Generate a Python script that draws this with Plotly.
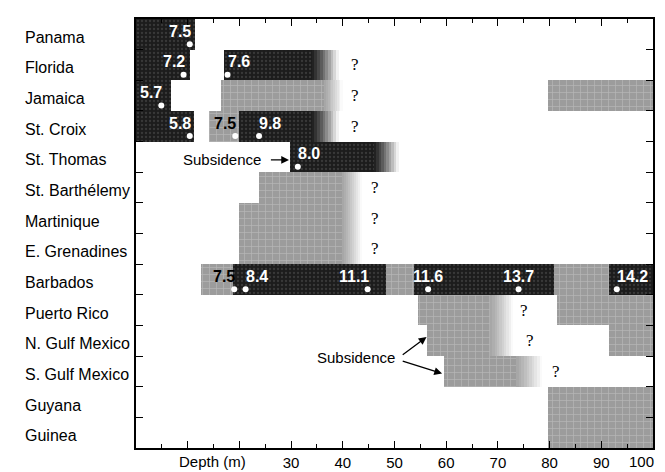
import plotly.graph_objects as go

# ---------------- data ----------------
locations = ["Panama", "Florida", "Jamaica", "St. Croix", "St. Thomas", "St. Barthélemy",
             "Martinique", "E. Grenadines", "Barbados", "Puerto Rico", "N. Gulf Mexico",
             "S. Gulf Mexico", "Guyana", "Guinea"]

# reef segments: row index, start depth, end depth, kind, depth at which fade begins (None = no fade)
seg_rows   = [0, 1, 1, 2, 2, 2, 3, 3, 3, 4, 5, 6, 7,
              8, 8, 8, 8, 8, 8, 9, 9, 10, 10, 11, 12, 13]
seg_starts = [0, 0, 17.0, 0, 16.4, 79.6, 0, 14.2, 20.0, 29.8, 23.8, 20.0, 20.0,
              12.5, 18.7, 48.3, 53.7, 80.8, 91.5, 54.6, 81.5, 56.3, 91.5, 59.5, 79.6, 79.6]
seg_ends   = [11.5, 10.5, 39.2, 6.8, 40.0, 100, 11.3, 20.0, 39.2, 50.8, 43.7, 43.7, 43.7,
              18.7, 48.3, 53.7, 80.8, 91.5, 100, 73.0, 100, 73.0, 100, 78.6, 100, 100]
seg_kinds  = ["dark", "dark", "dark", "dark", "light", "light", "dark", "light", "dark", "dark",
              "light", "light", "light",
              "light", "dark", "light", "dark", "light", "dark", "light", "light", "light",
              "light", "light", "light", "light"]
seg_fades  = [None, None, 34.0, None, 36.5, None, None, None, 34.0, 46.0, 40.0, 40.0, 40.0,
              None, None, None, None, None, None, 68.5, None, 68.5, None, 73.5, None, None]

# dated samples (white dots): row, depth, age label (ka)
dot_rows   = [0, 1, 1, 2, 3, 3, 3, 4, 8, 8, 8, 8, 8, 8]
dot_depths = [10.4, 9.2, 17.7, 4.9, 10.4, 19.2, 23.8, 31.3, 19.0, 21.2, 44.8, 56.5, 74.0, 93.0]
dot_labels = ["7.5", "7.2", "7.6", "5.7", "5.8", "7.5", "9.8", "8.0",
              "7.5", "8.4", "11.1", "11.6", "13.7", "14.2"]
label_anchor = ["right", "right", "left", "right", "right", "right", "left", "left",
                "right", "left", "right", "center", "center", "left"]
label_color = ["white"] * 5 + ["black"] + ["white"] * 2 + ["black"] + ["white"] * 5

# unknown lower limits ("?")
q_rows   = [1, 2, 3, 5, 6, 7, 9, 10, 11]
q_depths = [42.3, 42.3, 42.3, 46.2, 46.2, 46.2, 75.0, 76.2, 81.2]

x_tickvals = [0, 10, 20, 30, 40, 50, 60, 70, 80, 90, 100]
x_ticktext = ["", "", "", "30", "40", "50", "60", "70", "80", "90", ""]
x_last_label = "100"

# ---------------- styling ----------------
COLORS = {"dark": (28, 28, 28), "light": (165, 165, 165)}
PATTERNS = {
    "dark": dict(shape=".", fgcolor="#555555", bgcolor="#1c1c1c", size=4, solidity=0.25),
    "light": dict(shape="+", fgcolor="#d2d2d2", bgcolor="#9c9c9c", size=7, solidity=0.18),
}
FONT = "Liberation Sans, Arial, Helvetica, sans-serif"
SERIF = "Liberation Serif, Times New Roman, serif"


def rgb(c):
    return "rgb(%d,%d,%d)" % c


def mix(c, t):
    return tuple(round(v + (255 - v) * t) for v in c)


fig = go.Figure()
N_FADE = 10
for r, s, e, k, f in zip(seg_rows, seg_starts, seg_ends, seg_kinds, seg_fades):
    base_c = COLORS[k]
    solid_end = e if f is None else f
    fig.add_trace(go.Bar(orientation="h", y=[r], base=[s], x=[solid_end - s], width=1.0,
                         marker=dict(color=rgb(base_c), line=dict(width=0), pattern=PATTERNS[k]),
                         showlegend=False, hoverinfo="skip"))
    if f is not None:
        step = (e - f) / N_FADE
        for i in range(N_FADE):
            t = (i + 0.5) / N_FADE
            fig.add_trace(go.Bar(orientation="h", y=[r], base=[f + i * step], x=[step * 1.02],
                                 width=1.0,
                                 marker=dict(color=rgb(mix(base_c, t ** 1.2)), line=dict(width=0)),
                                 showlegend=False, hoverinfo="skip"))

fig.add_trace(go.Scatter(x=dot_depths, y=[r + 0.32 for r in dot_rows], mode="markers",
                         marker=dict(color="white", size=6, line=dict(width=0)),
                         showlegend=False, hoverinfo="skip"))

annotations = []
for r, d, lab, anc, col in zip(dot_rows, dot_depths, dot_labels, label_anchor, label_color):
    shift = {"left": -2, "right": 3, "center": 0}[anc]
    annotations.append(dict(x=d, y=r, xref="x", yref="y", text="<b>%s</b>" % lab, showarrow=False,
                            xanchor=anc, yanchor="middle", xshift=shift, yshift=3,
                            font=dict(family=FONT, size=16, color=col)))

for r, d in zip(q_rows, q_depths):
    annotations.append(dict(x=d, y=r, xref="x", yref="y", text="?", showarrow=False,
                            xanchor="center", yanchor="middle",
                            font=dict(family=SERIF, size=17, color="black")))

for i, name in enumerate(locations):
    annotations.append(dict(x=-0.219, y=i, xref="paper", yref="y", text=name, showarrow=False,
                            xanchor="left", yanchor="middle", yshift=-3,
                            font=dict(family=FONT, size=16, color="black")))

annotations.append(dict(x=14.8, y=0, xref="x", yref="paper", text="Depth (m)", showarrow=False,
                        xanchor="center", yanchor="top", yshift=-3,
                        font=dict(family=FONT, size=15, color="black")))
annotations.append(dict(x=100, y=0, xref="x", yref="paper", text=x_last_label, showarrow=False,
                        xanchor="right", yanchor="top", yshift=-3, xshift=3,
                        font=dict(family=FONT, size=15, color="black")))

# Subsidence annotations
annotations.append(dict(x=16.7, y=4.1, xref="x", yref="y", text="Subsidence", showarrow=False,
                        xanchor="center", yanchor="middle",
                        font=dict(family=FONT, size=15, color="black")))
annotations.append(dict(x=29.6, y=4.1, ax=25.8, ay=4.1, xref="x", yref="y", axref="x", ayref="y",
                        text="", showarrow=True, arrowhead=2, arrowsize=1.2, arrowwidth=1.3,
                        arrowcolor="black"))
annotations.append(dict(x=42.5, y=10.56, xref="x", yref="y", text="Subsidence", showarrow=False,
                        xanchor="center", yanchor="middle",
                        font=dict(family=FONT, size=15, color="black")))
annotations.append(dict(x=56.2, y=9.88, ax=51.3, ay=10.49, xref="x", yref="y", axref="x", ayref="y",
                        text="", showarrow=True, arrowhead=2, arrowsize=1.2, arrowwidth=1.3,
                        arrowcolor="black"))
annotations.append(dict(x=59.2, y=11.07, ax=51.3, ay=10.65, xref="x", yref="y", axref="x", ayref="y",
                        text="", showarrow=True, arrowhead=2, arrowsize=1.2, arrowwidth=1.3,
                        arrowcolor="black"))

fig.update_layout(
    width=665, height=472,
    margin=dict(l=128, r=20, t=9, b=26),
    plot_bgcolor="white", paper_bgcolor="white",
    barmode="overlay", bargap=0,
    annotations=annotations,
    xaxis=dict(range=[0, 100], tickmode="array", tickvals=x_tickvals, ticktext=x_ticktext,
               ticks="inside", ticklen=7, tickwidth=1, tickcolor="black",
               minor=dict(dtick=5, ticks="inside", ticklen=4, tickcolor="black"),
               showline=True, linecolor="black", linewidth=1.5, mirror="ticks",
               showgrid=False, zeroline=False,
               tickfont=dict(family=FONT, size=15, color="black")),
    yaxis=dict(range=[13.5, -0.5], tick0=0.5, dtick=1, ticks="inside", ticklen=7,
               tickcolor="black", showticklabels=False,
               showline=True, linecolor="black", linewidth=1.5, mirror="ticks",
               showgrid=False, zeroline=False),
)

fig.write_html("out.html")
